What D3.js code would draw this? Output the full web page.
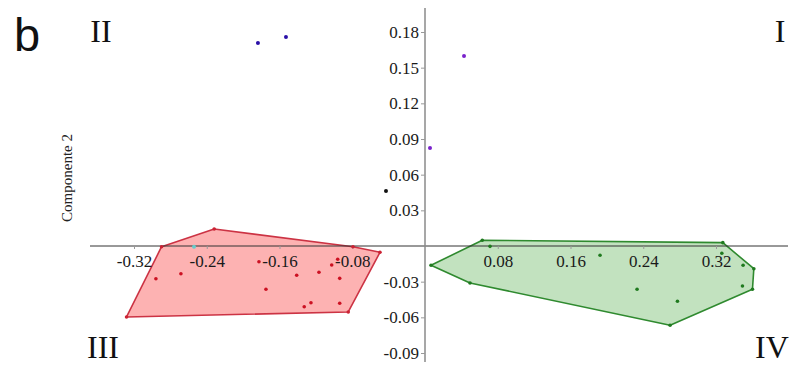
<!DOCTYPE html>
<html>
<head>
<meta charset="utf-8">
<script src="https://cdn.jsdelivr.net/npm/d3@7"></script>
<style>
  body { margin: 0; background: #fff; }
  svg { display: block; }
  .tick text { font-family: "Liberation Serif", "Times New Roman", serif; font-size: 17px; fill: #1a1a1a; }
</style>
</head>
<body>
<div id="chart"></div>
<script>
// PCA scores, component 1 (x) vs component 2 (y)
var xTicks = [-0.32, -0.24, -0.16, -0.08, 0.08, 0.16, 0.24, 0.32];
var yTicks = [-0.09, -0.06, -0.03, 0.03, 0.06, 0.09, 0.12, 0.15, 0.18];

// red group: hull vertices, then inner points
var redHull = [[-0.2318, 0.0143], [-0.0792, -0.0006], [-0.0495, -0.0053], [-0.0844, -0.0555],
               [-0.3282, -0.0597], [-0.2897, -0.0006]];
var redPts = [[-0.2959, -0.0275], [-0.2684, -0.0233], [-0.1826, -0.0132], [-0.1749, -0.0364],
              [-0.1411, -0.0246], [-0.1328, -0.0511], [-0.1254, -0.0477], [-0.1166, -0.0221],
              [-0.1026, -0.0160], [-0.0960, -0.0112], [-0.0938, -0.0272], [-0.0938, -0.0482]];

// green group
var greenHull = [[0.0630, 0.0048], [0.3275, 0.0028], [0.3616, -0.0191], [0.3601, -0.0364],
                 [0.2695, -0.0667], [0.0495, -0.0311], [0.0066, -0.0162]];
var greenPts = [[0.0715, -0.0003], [0.1925, -0.0078], [0.2332, -0.0364], [0.2776, -0.0465],
                [0.3264, -0.0061], [0.3498, -0.0162], [0.3491, -0.0336]];

// loose points
var bluePts = [[-0.1837, 0.1707], [-0.1529, 0.1758]];
var purplePts = [[0.0429, 0.1598], [0.0055, 0.0824]];
var blackPts = [[-0.0429, 0.0463]];
var cyanPts = [[-0.254, -0.0006]];

var quadrants = [["I", 780, 42], ["II", 101, 42], ["III", 103, 358], ["IV", 772, 358]];

var W = 800, H = 369;

var svg = d3.select('#chart').append('svg')
    .attr('width', W)
    .attr('height', H);

svg.append("rect")
    .attr('width', W)
    .attr('height', H)
    .attr('fill', "white");

var x = d3.scaleLinear().domain([-0.32, 0.32]).range([134, 716]);
var y = d3.scaleLinear().domain([-0.09, 0.18]).range([353, 32]);

var line = d3.line()
    .x(function (d) { return x(d[0]); })
    .y(function (d) { return y(d[1]); })
    .curve(d3.curveLinearClosed);

// hull polygons
svg.append("path")
    .datum(redHull)
    .attr("d", line)
    .attr("fill", "#fdb2b2")
    .attr("stroke", "#cc3344")
    .attr("stroke-width", 1.6)
    .attr("stroke-linejoin", "round");

svg.append("path")
    .datum(greenHull)
    .attr("d", line)
    .attr("fill", "#c2e2bf")
    .attr("stroke", "#2f8a2f")
    .attr("stroke-width", 1.6)
    .attr("stroke-linejoin", "round");

// axis lines through origin
svg.append("line")
    .attr("x1", 90).attr("x2", 788)
    .attr("y1", y(0)).attr("y2", y(0))
    .style("stroke", "#333")
    .style("stroke-width", 1);

svg.append("line")
    .attr("x1", x(0)).attr("x2", x(0))
    .attr("y1", 8).attr("y2", 362)
    .style("stroke", "#8a8a8a")
    .style("stroke-width", 1.5);

var fmt = function (d) { return d.toFixed(2); };

var gx = svg.append("g")
    .attr("transform", "translate(0," + y(0) + ")")
    .call(d3.axisBottom(x).tickValues(xTicks).tickFormat(fmt).tickSize(3).tickPadding(6));
gx.select(".domain").remove();
gx.selectAll(".tick line").style("stroke", "#999");

var gy = svg.append("g")
    .attr("transform", "translate(" + x(0) + ",0)")
    .call(d3.axisLeft(y).tickValues(yTicks).tickFormat(fmt).tickSize(4).tickPadding(2));
gy.select(".domain").remove();
gy.selectAll(".tick line").style("stroke", "#999");

// points
function dots(data, color, r) {
  svg.append("g").selectAll("circle")
    .data(data)
    .enter().append("circle")
    .attr("cx", function (d) { return x(d[0]); })
    .attr("cy", function (d) { return y(d[1]); })
    .attr("r", r)
    .attr("fill", color);
}
dots(redHull, "#cc2233", 1.8);
dots(redPts, "#cc1122", 1.8);
dots(greenHull, "#1f7a1f", 1.8);
dots(greenPts, "#1f7a1f", 1.8);
dots(bluePts, "#2a10a8", 2);
dots(purplePts, "#7a22cc", 2);
dots(blackPts, "#111", 2);
dots(cyanPts, "#66cccc", 2);

// quadrant labels
svg.append("g").selectAll("text")
    .data(quadrants)
    .enter().append("text")
    .attr("x", function (d) { return d[1]; })
    .attr("y", function (d) { return d[2]; })
    .attr("text-anchor", "middle")
    .style("font-family", "Liberation Serif, Times New Roman, serif")
    .style("font-size", "32px")
    .style("fill", "#111")
    .text(function (d) { return d[0]; });

// axis title
svg.append("text")
    .attr("transform", "translate(72,178) rotate(-90)")
    .attr("text-anchor", "middle")
    .style("font-family", "Liberation Serif, Times New Roman, serif")
    .style("font-size", "15px")
    .style("fill", "#222")
    .text("Componente 2");

// panel letter
svg.append("text")
    .attr("x", 14)
    .attr("y", 51)
    .style("font-family", "Liberation Sans, Arial, sans-serif")
    .style("font-size", "47px")
    .style("fill", "#111")
    .text("b");
</script>
</body>
</html>
